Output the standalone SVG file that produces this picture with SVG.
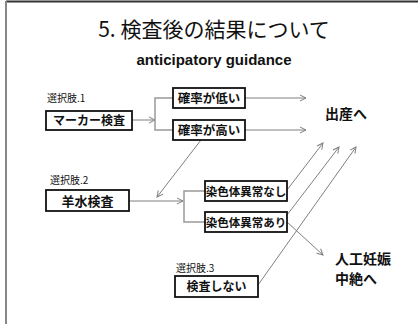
<svg xmlns="http://www.w3.org/2000/svg" width="418" height="324" viewBox="0 0 418 324">
<defs>
<style>
.box{fill:#fff;stroke:#111;stroke-width:1.8}
.bt{font-family:"Noto Sans CJK JP","Noto Sans",sans-serif;font-weight:bold;fill:#111;text-anchor:middle}
.lbl{font-family:"Noto Sans CJK JP","Noto Sans",sans-serif;font-size:10px;fill:#111}
.out{font-family:"Noto Sans CJK JP","Noto Sans",sans-serif;font-weight:bold;font-size:14px;fill:#111}
.con{fill:none;stroke:#808080;stroke-width:1}
.brk{fill:none;stroke:#999;stroke-width:1.5}
</style>
<marker id="ah" viewBox="0 0 8 8" refX="7" refY="4" markerWidth="8" markerHeight="8" markerUnits="userSpaceOnUse" orient="auto">
<path d="M1,1 L7,4 L1,7" fill="none" stroke="#808080" stroke-width="1"/>
</marker>
</defs>
<rect width="418" height="324" fill="#fff"/>
<line x1="6" y1="1.5" x2="418" y2="1.5" stroke="#333" stroke-width="2"/>
<line x1="6" y1="1" x2="6" y2="324" stroke="#888" stroke-width="2"/>
<g id="title">
<text x="214" y="37" font-family="'Noto Sans CJK JP','Noto Sans',sans-serif" font-size="21" fill="#111" text-anchor="middle">5. 検査後の結果について</text>
<text x="214" y="65" font-family="'Liberation Sans',Arial,sans-serif" font-weight="bold" font-size="15" fill="#111" text-anchor="middle">anticipatory guidance</text>
</g>
<g id="connectors">
<line class="con" x1="132" y1="120" x2="155" y2="120" marker-end="url(#ah)"/>
<path class="brk" d="M173,98 H155 V130 H173"/>
<line class="con" x1="245" y1="98" x2="306" y2="98" marker-end="url(#ah)"/>
<line class="con" x1="245" y1="130" x2="306" y2="130" marker-end="url(#ah)"/>
<line class="con" x1="201" y1="140" x2="157" y2="197" marker-end="url(#ah)"/>
<line class="con" x1="129" y1="201" x2="183" y2="201" marker-end="url(#ah)"/>
<path class="brk" d="M205,191 H184 V222 H205"/>
<line class="con" x1="287" y1="190" x2="323" y2="143" marker-end="url(#ah)"/>
<line class="con" x1="287" y1="215" x2="339" y2="147" marker-end="url(#ah)"/>
<line class="con" x1="258" y1="285" x2="356" y2="147" marker-end="url(#ah)"/>
<line class="con" x1="287" y1="222" x2="323" y2="255" marker-end="url(#ah)"/>
</g>
<g id="choice1">
<text class="lbl" x="47" y="102">選択肢.1</text>
<rect class="box" x="46" y="111" width="86" height="19"/>
<text class="bt" x="89" y="125" font-size="12">マーカー検査</text>
</g>
<g id="low">
<rect class="box" x="173" y="88" width="72" height="20"/>
<text class="bt" x="209" y="103" font-size="12.5">確率が低い</text>
</g>
<g id="high">
<rect class="box" x="173" y="120" width="72" height="20"/>
<text class="bt" x="209" y="135" font-size="12.5">確率が高い</text>
</g>
<g id="birth">
<text class="out" x="325" y="119">出産へ</text>
</g>
<g id="choice2">
<text class="lbl" x="50" y="184">選択肢.2</text>
<rect class="box" x="46" y="190" width="83" height="21"/>
<text class="bt" x="87.5" y="205.5" font-size="13">羊水検査</text>
</g>
<g id="normal">
<rect class="box" x="205" y="181" width="82" height="20"/>
<text class="bt" x="246" y="195.5" font-size="11.5">染色体異常なし</text>
</g>
<g id="abnormal">
<rect class="box" x="205" y="212" width="82" height="20"/>
<text class="bt" x="246" y="226.5" font-size="11.5">染色体異常あり</text>
</g>
<g id="choice3">
<text class="lbl" x="176" y="272">選択肢.3</text>
<rect class="box" x="175" y="276" width="83" height="21"/>
<text class="bt" x="216.5" y="291" font-size="12">検査しない</text>
</g>
<g id="abort">
<text class="out" x="335" y="264">人工妊娠</text>
<text class="out" x="335" y="284">中絶へ</text>
</g>
</svg>
